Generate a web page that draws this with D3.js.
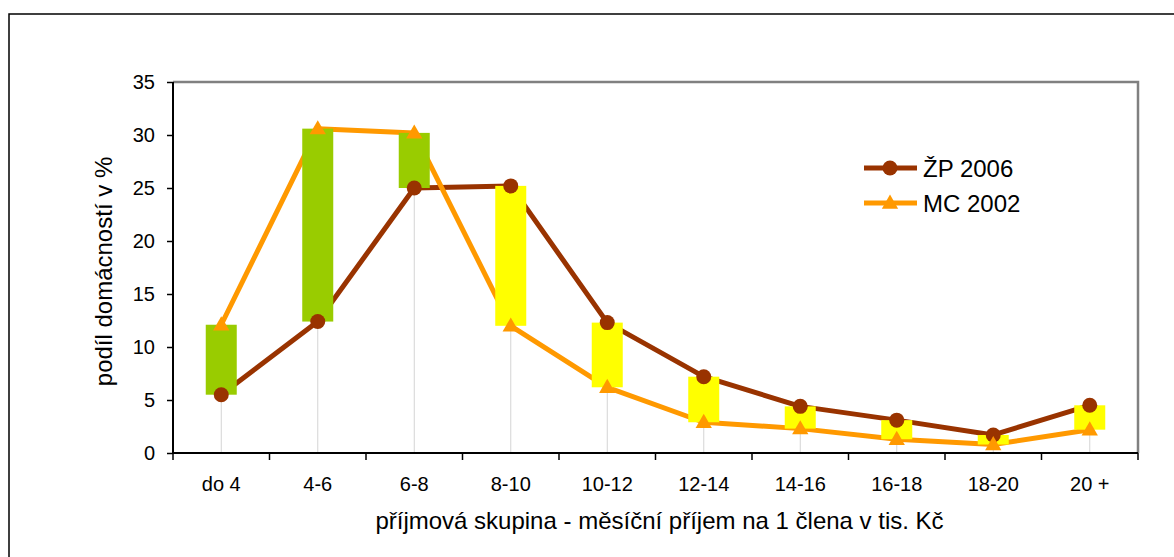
<!DOCTYPE html>
<html><head><meta charset="utf-8">
<script src="https://cdn.jsdelivr.net/npm/d3@7"></script>
<style>body{margin:0;background:#fff}svg{display:block;font-family:"Liberation Sans",Arial,sans-serif}</style>
</head><body>
<svg id="c" width="1174" height="557"></svg>
<script>
const categories = ["do 4","4-6","6-8","8-10","10-12","12-14","14-16","16-18","18-20","20 +"];
const zp2006 = [5.5,12.4,25.0,25.2,12.3,7.2,4.4,3.1,1.7,4.5];
const mc2002 = [12.1,30.6,30.2,12.0,6.2,2.9,2.3,1.3,0.8,2.2];
const yTicks = [0,5,10,15,20,25,30,35];
const seriesNames = ["ŽP 2006","MC 2002"];

const svg = d3.select("#c");
const L=173, R=1138, T=82, B=453;
const x = d3.scaleBand().domain(categories).range([L,R]);
const y = d3.scaleLinear().domain([0,35]).range([B,T]);
const cx = d => x(d)+x.bandwidth()/2;

// outer frame
svg.append("rect").attr("x",9).attr("y",14).attr("width",1200).attr("height",600)
  .attr("fill","none").attr("stroke","#000").attr("stroke-width",1.5);

// plot border (top/right gray)
svg.append("path").attr("d",`M${L},${T}H${R}V${B}`).attr("fill","none").attr("stroke","#808080").attr("stroke-width",2.5);

// drop lines
svg.append("g").selectAll("line").data(categories).join("line")
  .attr("x1",d=>cx(d)).attr("x2",d=>cx(d))
  .attr("y1",(d,i)=>y(Math.max(zp2006[i],mc2002[i]))).attr("y2",y(0))
  .attr("stroke","#d4d4d4").attr("stroke-width",1);

// lines
const line = d3.line().x((d,i)=>cx(categories[i])).y(d=>y(d));
svg.append("path").datum(zp2006).attr("d",line).attr("fill","none").attr("stroke","#993300").attr("stroke-width",5).attr("stroke-linejoin","round");
svg.append("path").datum(mc2002).attr("d",line).attr("fill","none").attr("stroke","#FF9900").attr("stroke-width",5).attr("stroke-linejoin","round");

// up-down bars
const bw = 31;
svg.append("g").selectAll("rect").data(categories).join("rect")
  .attr("x",d=>cx(d)-bw/2).attr("width",bw)
  .attr("y",(d,i)=>y(Math.max(zp2006[i],mc2002[i])))
  .attr("height",(d,i)=>Math.abs(y(zp2006[i])-y(mc2002[i])))
  .attr("fill",(d,i)=>mc2002[i]>zp2006[i]?"#99CC00":"#FFFF00");

// markers
const tri = d3.symbol().type(d3.symbolTriangle).size(115);
svg.append("g").selectAll("circle").data(zp2006).join("circle")
  .attr("cx",(d,i)=>cx(categories[i])).attr("cy",d=>y(d)).attr("r",7.5).attr("fill","#993300");
svg.append("g").selectAll("path").data(mc2002).join("path")
  .attr("d",tri).attr("transform",(d,i)=>`translate(${cx(categories[i])},${y(d)+1})`).attr("fill","#FF9900");

// axes
const yAxis = svg.append("g").attr("transform",`translate(${L},0)`)
  .call(d3.axisLeft(y).tickValues(yTicks).tickSize(6).tickPadding(12));
const xAxis = svg.append("g").attr("transform",`translate(0,${B})`)
  .call(d3.axisBottom(x).tickSize(0).tickPadding(24));
[yAxis,xAxis].forEach(a=>{a.select(".domain").attr("stroke","#000").attr("stroke-width",2);
  a.selectAll("text").attr("font-size",20).attr("fill","#000").attr("font-family","Liberation Sans, Arial, sans-serif");
  a.selectAll("line").attr("stroke","#000").attr("stroke-width",1.5);});
yAxis.select(".domain").attr("d",`M0,${B}V${T}`);
xAxis.select(".domain").attr("d",`M${L},0H${R}`);
// x ticks between categories
svg.append("g").selectAll("line").data(d3.range(categories.length+1)).join("line")
  .attr("x1",i=>L+i*x.bandwidth()).attr("x2",i=>L+i*x.bandwidth())
  .attr("y1",B).attr("y2",B+7).attr("stroke","#000").attr("stroke-width",1.5);

// titles
svg.append("text").attr("x",(L+R)/2+4).attr("y",529).attr("text-anchor","middle").attr("font-size",24).text("příjmová skupina - měsíční příjem na 1 člena v tis. Kč");
svg.append("text").attr("transform",`translate(112,${(T+B)/2+4}) rotate(-90)`).attr("text-anchor","middle").attr("font-size",24).text("podíl domácností v %");

// legend
const lg = svg.append("g");
const ly = [168,203];
const colors = ["#993300","#FF9900"];
ly.forEach((yy,i)=>{
  lg.append("line").attr("x1",864).attr("x2",917).attr("y1",yy).attr("y2",yy).attr("stroke",colors[i]).attr("stroke-width",5);
  if(i===0) lg.append("circle").attr("cx",890).attr("cy",yy).attr("r",7.5).attr("fill",colors[i]);
  else lg.append("path").attr("d",tri).attr("transform",`translate(890,${yy+1})`).attr("fill",colors[i]);
  lg.append("text").attr("x",923).attr("y",yy+9).attr("font-size",24).text(seriesNames[i]);
});
</script>
</body></html>
